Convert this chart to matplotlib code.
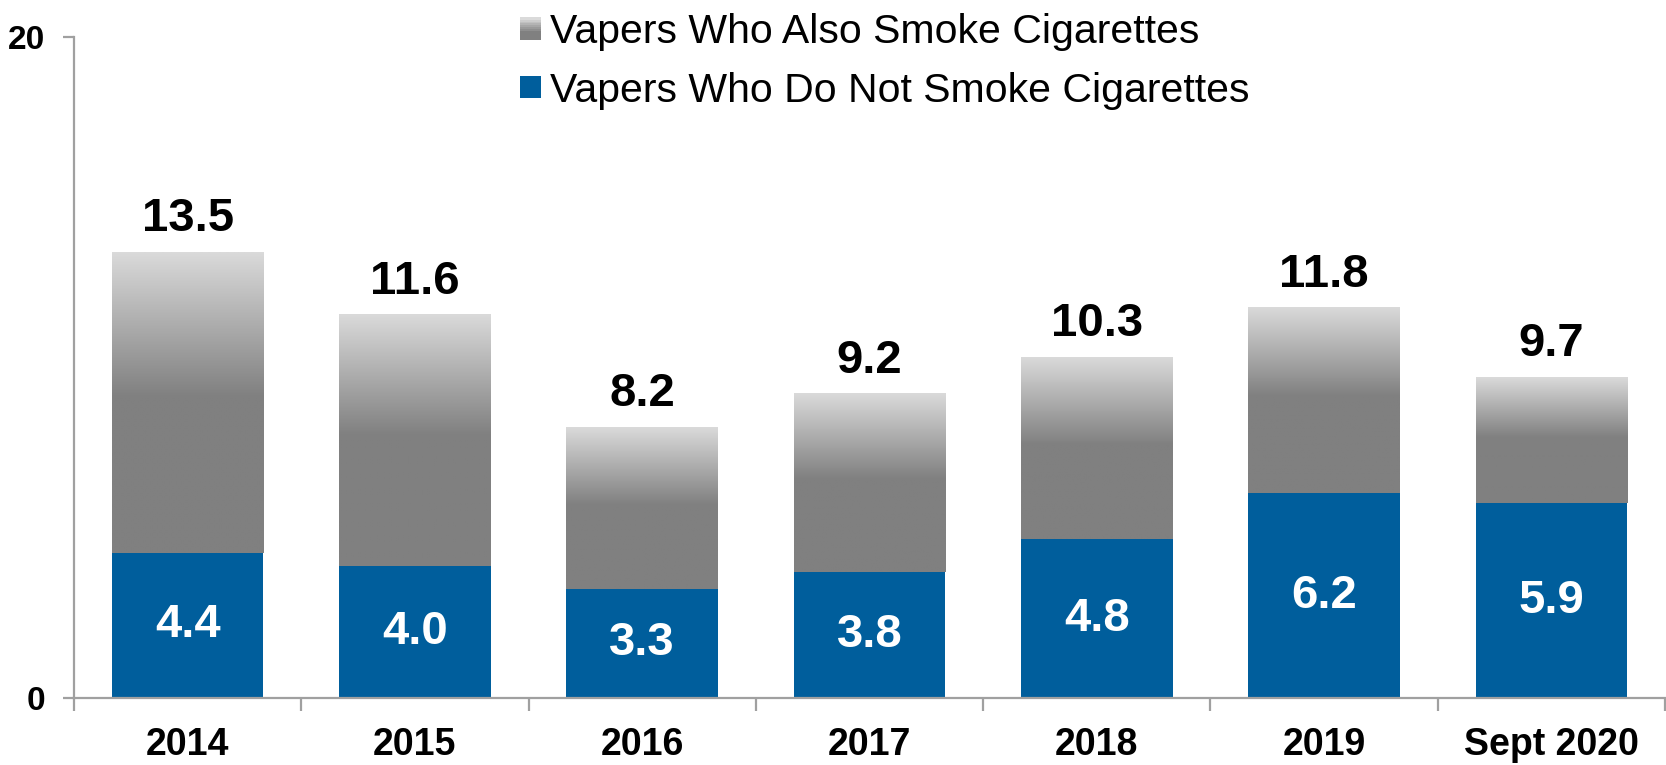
import numpy as np
import matplotlib
matplotlib.use("Agg")
import matplotlib.pyplot as plt
from matplotlib.patches import Rectangle
from matplotlib.legend_handler import HandlerBase
from matplotlib.colors import LinearSegmentedColormap

categories = ["2014", "2015", "2016", "2017", "2018", "2019", "Sept 2020"]
non_smokers = [4.4, 4.0, 3.3, 3.8, 4.8, 6.2, 5.9]
totals = [13.5, 11.6, 8.2, 9.2, 10.3, 11.8, 9.7]
dual_users = [round(t - n, 1) for t, n in zip(totals, non_smokers)]
y_ticks = [0, 20]
legend_labels = ["Vapers Who Also Smoke Cigarettes", "Vapers Who Do Not Smoke Cigarettes"]

BLUE = "#005E9C"
GRAY_DARK = "#808080"
GRAY_LIGHT = "#DADADA"
AXIS_GRAY = "#A0A0A0"

plt.rcParams["font.family"] = ["Liberation Sans", "DejaVu Sans"]

fig = plt.figure(figsize=(16.66, 7.65), dpi=100)
ax = fig.add_axes([74 / 1666, 67 / 765, (1665 - 74) / 1666, (698 - 37) / 765])

x = np.arange(len(categories))
width = 0.667
blue_bars = ax.bar(x, non_smokers, width=width, color=BLUE, zorder=3)
gray_bars = ax.bar(x, dual_users, width=width, bottom=non_smokers, color="none", zorder=3)

# cmap: 0 -> light (top), 1 -> dark
cmap = LinearSegmentedColormap.from_list(
    "g", [(0.0, GRAY_LIGHT), (0.48, GRAY_DARK), (1.0, GRAY_DARK)])
grad = np.linspace(0, 1, 256).reshape(-1, 1)  # row 0 = top when origin='upper'
for p in gray_bars.patches:
    x0, y0, w, h = p.get_x(), p.get_y(), p.get_width(), p.get_height()
    ax.imshow(grad, cmap=cmap, vmin=0, vmax=1, extent=[x0, x0 + w, y0, y0 + h],
              aspect="auto", origin="upper", zorder=2.5, interpolation="bilinear")

ax.set_xlim(-0.5, len(categories) - 0.5)
ax.set_ylim(0, 20)

# value labels
for p, v in zip(blue_bars.patches, non_smokers):
    ax.text(p.get_x() + p.get_width() / 2, v / 2, f"{v:.1f}", ha="center", va="center",
            color="white", fontsize=34, fontweight="bold", zorder=5)
for p, t in zip(gray_bars.patches, totals):
    ax.annotate(f"{t:.1f}", (p.get_x() + p.get_width() / 2, t), xytext=(0, 8),
                textcoords="offset points", ha="center", va="bottom",
                fontsize=34, fontweight="bold", color="black", zorder=5)

# axes styling
for s in ["top", "right"]:
    ax.spines[s].set_visible(False)
for s in ["left", "bottom"]:
    ax.spines[s].set_color(AXIS_GRAY)
    ax.spines[s].set_linewidth(1.6)
    ax.spines[s].set_zorder(4)

ax.set_yticks(y_ticks)
ax.set_yticklabels([str(v) for v in y_ticks], fontsize=24, fontweight="bold")
ax.tick_params(axis="y", length=8, width=1.6, color=AXIS_GRAY, pad=13)

ax.set_xticks(x)
ax.set_xticklabels(categories, fontsize=27, fontweight="bold")
ax.tick_params(axis="x", which="major", length=0, pad=21)
ax.set_xticks(np.arange(-0.5, len(categories)), minor=True)
ax.tick_params(axis="x", which="minor", length=9, width=1.6, color=AXIS_GRAY)


class GradientHandler(HandlerBase):
    def create_artists(self, legend, orig_handle, xdescent, ydescent, width, height,
                       fontsize, trans):
        arts = []
        n = 12
        for i in range(n):
            frac = i / (n - 1)  # 0 bottom -> 1 top
            arts.append(Rectangle((-xdescent, -ydescent + height * i / n), width,
                                  height / n + 0.4, facecolor=cmap((1 - frac) * 0.75),
                                  edgecolor="none", transform=trans))
        return arts


class SquareHandler(HandlerBase):
    def create_artists(self, legend, orig_handle, xdescent, ydescent, width, height,
                       fontsize, trans):
        return [Rectangle((-xdescent, -ydescent), width, height, facecolor=BLUE,
                          edgecolor="none", transform=trans)]


h_gray = Rectangle((0, 0), 1, 1)
h_blue = Rectangle((0, 0), 1, 1)
leg = fig.legend([h_gray, h_blue], legend_labels,
                 handler_map={h_gray: GradientHandler(), h_blue: SquareHandler()},
                 loc="upper left", bbox_to_anchor=(500 / 1666, 772 / 765), frameon=False,
                 borderpad=0, fontsize=29.5, handlelength=0.5, handleheight=0.45,
                 handletextpad=0.22, labelspacing=0.5)

fig.savefig("out.png", dpi=100, facecolor="white")
